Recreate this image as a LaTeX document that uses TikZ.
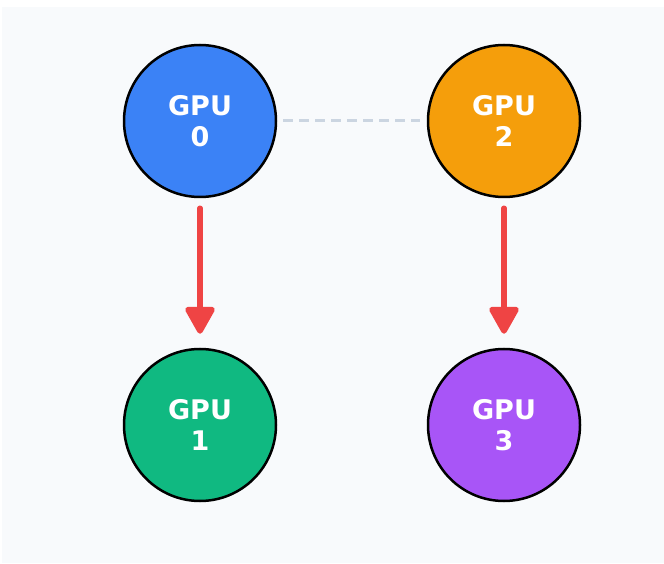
\documentclass[tikz,border=0pt]{standalone}
\usepackage{fontspec}
\setmainfont{DejaVu Sans}
\usepackage{tikz}
\usetikzlibrary{positioning,arrows.meta}
\definecolor{bgpanel}{HTML}{F8FAFC}
\definecolor{gpublue}{HTML}{3B82F6}
\definecolor{gpuorange}{HTML}{F59E0B}
\definecolor{gpugreen}{HTML}{10B981}
\definecolor{gpupurple}{HTML}{A855F7}
\definecolor{sendred}{HTML}{EF4444}
\definecolor{linkgray}{HTML}{CBD5E1}
\tikzset{
gpu/.style={
draw=black,
circle,
line width=2.5pt,
minimum size=152pt,
inner sep=0pt,
align=center,
text=white,
font=\fontsize{27}{31}\selectfont\bfseries
},
send/.style={
-{Triangle[width=32pt,length=30pt,round]},
draw=sendred,
line width=5.5pt,
line cap=round,
shorten <=10pt,
shorten >=14pt
},
link/.style={
draw=linkgray,
line width=3pt,
dash pattern=on 10pt off 6pt,
shorten <=6pt,
shorten >=7pt
}
}

\begin{document}
\begin{tikzpicture}[x=1pt,y=1pt,node distance=149.5pt]
\useasboundingbox (0,0) rectangle (664,563);
\fill[bgpanel] (2,0) rectangle (664,556);

\node[gpu,fill=gpublue](g0) at (200,442){GPU\\0};
\node[gpu,fill=gpuorange,right=of g0](g2){GPU\\2};
\node[gpu,fill=gpugreen,below=of g0](g1){GPU\\1};
\node[gpu,fill=gpupurple,below=of g2](g3){GPU\\3};

\draw[link](g0)--(g2);
\draw[send](g0)--(g1);
\draw[send](g2)--(g3);
\end{tikzpicture}
\end{document}
